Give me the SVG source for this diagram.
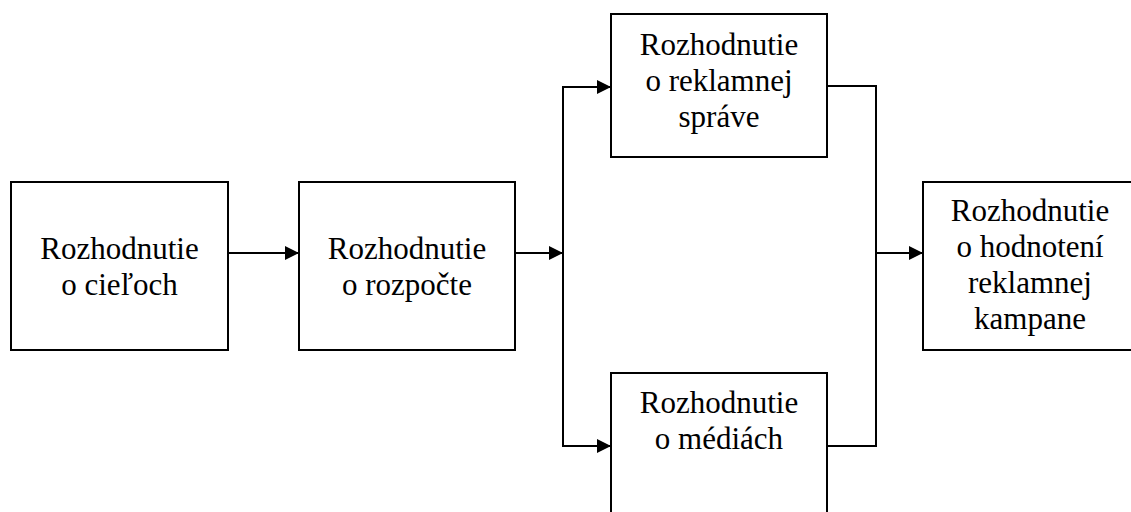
<svg xmlns="http://www.w3.org/2000/svg" width="1131" height="512" viewBox="0 0 1131 512">
  <style>
    .box { fill: #ffffff; stroke: #000000; stroke-width: 2; }
    .lbl { font-family: "Liberation Serif", Tinos, "Times New Roman", Times, "Noto Serif", "DejaVu Serif", FreeSerif, serif; font-size: 31px; fill: #000000; text-anchor: middle; }
    .wire { fill: none; stroke: #000000; stroke-width: 2; }
  </style>
  <defs>
    <marker id="arrow" markerUnits="userSpaceOnUse" markerWidth="16" markerHeight="16" refX="14" refY="7" orient="auto">
      <path d="M0,0 L14,7 L0,14 Z" fill="#000000"/>
    </marker>
  </defs>
  <rect width="1131" height="512" fill="#ffffff"/>

  <!-- connectors -->
  <g id="connectors">
    <line class="wire" x1="228" y1="253" x2="299" y2="253" marker-end="url(#arrow)"/>
    <line class="wire" x1="515" y1="253" x2="563" y2="253" marker-end="url(#arrow)"/>
    <line class="wire" x1="563" y1="86" x2="563" y2="447"/>
    <line class="wire" x1="562" y1="87" x2="611" y2="87" marker-end="url(#arrow)"/>
    <line class="wire" x1="562" y1="446" x2="611" y2="446" marker-end="url(#arrow)"/>
    <polyline class="wire" points="827,86 876,86 876,446 827,446"/>
    <line class="wire" x1="876" y1="253" x2="923" y2="253" marker-end="url(#arrow)"/>
  </g>

  <g id="node-ciele">
    <rect class="box" x="11" y="182" width="217" height="168"/>
    <text class="lbl" x="119.5" y="259">Rozhodnutie</text>
    <text class="lbl" x="119.5" y="295">o cieľoch</text>
  </g>

  <g id="node-rozpocet">
    <rect class="box" x="299" y="182" width="216" height="168"/>
    <text class="lbl" x="407" y="259">Rozhodnutie</text>
    <text class="lbl" x="407" y="295">o rozpočte</text>
  </g>

  <g id="node-sprava">
    <rect class="box" x="611" y="14" width="216" height="143"/>
    <text class="lbl" x="719" y="55">Rozhodnutie</text>
    <text class="lbl" x="719" y="91">o reklamnej</text>
    <text class="lbl" x="719" y="127">správe</text>
  </g>

  <g id="node-media">
    <rect class="box" x="611" y="373" width="216" height="150"/>
    <text class="lbl" x="719" y="413">Rozhodnutie</text>
    <text class="lbl" x="719" y="449">o médiách</text>
  </g>

  <g id="node-hodnotenie">
    <rect class="box" x="923" y="182" width="220" height="168"/>
    <text class="lbl" x="1030" y="221">Rozhodnutie</text>
    <text class="lbl" x="1030" y="257">o hodnotení</text>
    <text class="lbl" x="1030" y="293">reklamnej</text>
    <text class="lbl" x="1030" y="329">kampane</text>
  </g>
</svg>
